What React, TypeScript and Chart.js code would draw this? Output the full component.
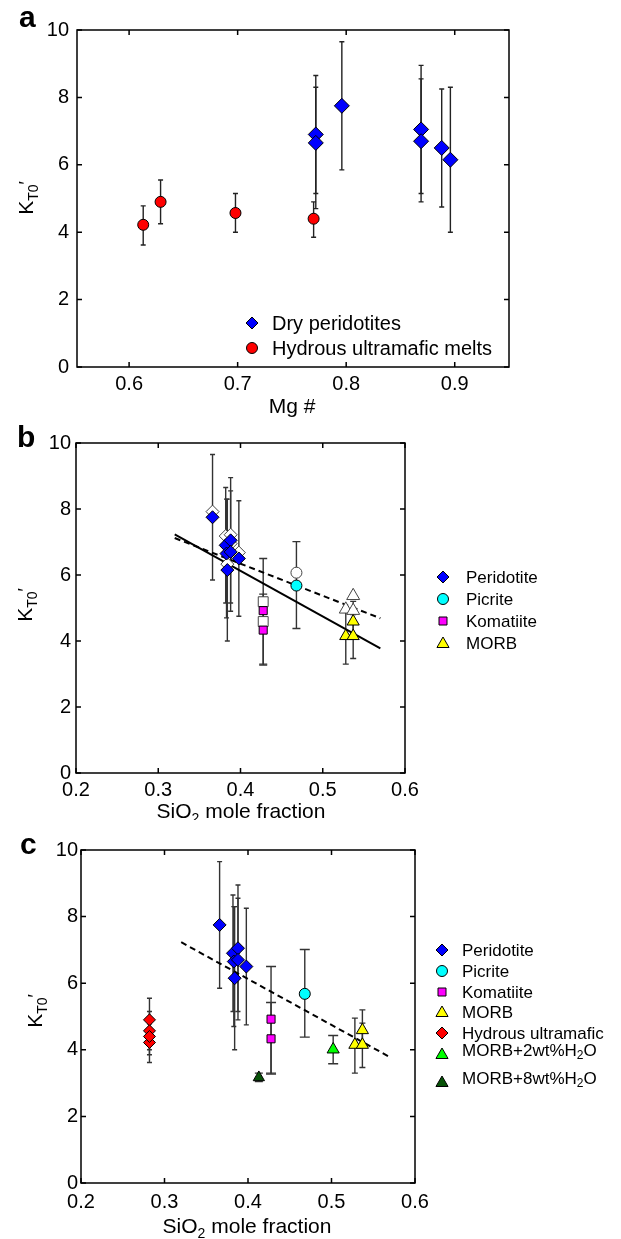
import React, { useEffect, useRef } from 'react';
import { Chart, registerables } from 'chart.js';

Chart.register(...registerables);

const FONT = '"Liberation Sans", Arial, Helvetica, sans-serif';

// ---------------- data ----------------
// Dry peridotites
const periMg = [0.772, 0.772, 0.796, 0.869, 0.869, 0.888, 0.896];
const periSiO2 = [0.382, 0.383, 0.366, 0.388, 0.388, 0.398, 0.384];
const periK = [6.9, 6.65, 7.75, 7.05, 6.7, 6.5, 6.15];
const periLo = [5.15, 4.7, 5.85, 5.15, 4.9, 4.75, 4.0];
const periHi = [8.65, 8.3, 9.65, 8.95, 8.55, 8.25, 8.3];
const periKOpen = [7.18, 6.88, 7.92, 7.22, 6.95, 6.68, 6.33];

// Hydrous ultramafic melts
const hydMg = [0.613, 0.629, 0.698, 0.77];
const hydSiO2 = [0.282, 0.282, 0.282, 0.282];
const hydK = [4.22, 4.9, 4.57, 4.4];
const hydLo = [3.62, 4.25, 4.0, 3.85];
const hydHi = [4.78, 5.55, 5.15, 4.9];

// Picrite
const picSiO2 = [0.468];
const picK = [5.68];
const picLo = [4.38];
const picHi = [7.01];
const picKOpen = [6.07];

// Komatiite
const komSiO2 = [0.4276, 0.4276];
const komK = [4.92, 4.33];
const komLo = [3.3, 3.27];
const komHi = [6.5, 5.42];
const komKOpen = [5.19, 4.59];

// MORB
const morbSiO2 = [0.528, 0.537, 0.537];
const morbK = [4.15, 4.15, 4.59];
const morbLo = [3.3, 3.47, 4.1];
const morbHi = [4.95, 4.8, 5.2];
const morbKOpen = [4.96, 4.92, 5.37];

// MORB + 2 wt% H2O
const morb2SiO2 = [0.502];
const morb2K = [4.01];
const morb2Lo = [3.58];
const morb2Hi = [4.43];

// MORB + 8 wt% H2O
const morb8SiO2 = [0.413];
const morb8K = [3.17];
const morb8Lo = [3.05];
const morb8Hi = [3.3];

// Fit lines
const fitSolidX = [0.32, 0.57];
const fitSolidY = [7.23, 3.78];
const fitDashX = [0.32, 0.57];
const fitDashY = [7.12, 4.69];

// Ticks
const xTicksA = [0.6, 0.7, 0.8, 0.9];
const xTicksBC = [0.2, 0.3, 0.4, 0.5, 0.6];
const yTicks = [0, 2, 4, 6, 8, 10];

// ---------------- helpers ----------------
const PSTYLE: Record<string, string> = {
  diamond: 'rectRot',
  circle: 'circle',
  square: 'rect',
  triangle: 'triangle',
};

function mk(xs: number[], ys: number[], shape: string, r: number, fill: string, o: any = {}) {
  return {
    data: xs.map((x, i) => ({ x, y: ys[i] })),
    pointStyle: PSTYLE[shape],
    pointRadius: r,
    pointHoverRadius: r,
    backgroundColor: fill,
    borderColor: o.stroke || '#000',
    borderWidth: o.bw ?? 1,
    showLine: false,
    errLo: o.lo,
    errHi: o.hi,
    errCap: o.cap ?? 3,
    errColor: o.ec || '#222',
    errWidth: o.ew || 1.4,
  };
}

function fitLine(xs: number[], ys: number[], dash: number[]) {
  return {
    data: xs.map((x, i) => ({ x, y: ys[i] })),
    showLine: true,
    pointRadius: 0,
    pointHoverRadius: 0,
    borderColor: '#000',
    borderWidth: 2,
    borderDash: dash,
    fill: false,
    tension: 0,
  };
}

type Seg = { t: string; size: number; dy?: number; bold?: boolean };

function segFont(s: Seg) {
  return `${s.bold ? 'bold ' : ''}${s.size}px ${FONT}`;
}

function richWidth(ctx: CanvasRenderingContext2D, segs: Seg[]) {
  let w = 0;
  for (const s of segs) {
    ctx.font = segFont(s);
    w += ctx.measureText(s.t).width;
  }
  return w;
}

function drawRich(ctx: CanvasRenderingContext2D, segs: Seg[], x: number, y: number, align: 'left' | 'center') {
  const w = richWidth(ctx, segs);
  let cx = align === 'center' ? x - w / 2 : x;
  ctx.textAlign = 'left';
  for (const s of segs) {
    ctx.font = segFont(s);
    ctx.fillText(s.t, cx, y + (s.dy || 0));
    cx += ctx.measureText(s.t).width;
  }
}

function drawMarker(ctx: CanvasRenderingContext2D, shape: string, x: number, y: number, r: number, fill: string) {
  ctx.beginPath();
  if (shape === 'diamond') {
    ctx.moveTo(x, y - r);
    ctx.lineTo(x + r, y);
    ctx.lineTo(x, y + r);
    ctx.lineTo(x - r, y);
    ctx.closePath();
  } else if (shape === 'circle') {
    ctx.arc(x, y, r, 0, Math.PI * 2);
  } else if (shape === 'square') {
    ctx.rect(x - r, y - r, 2 * r, 2 * r);
  } else {
    ctx.moveTo(x, y - r);
    ctx.lineTo(x + 0.866 * r, y + 0.5 * r);
    ctx.lineTo(x - 0.866 * r, y + 0.5 * r);
    ctx.closePath();
  }
  ctx.fillStyle = fill;
  ctx.fill();
  ctx.strokeStyle = '#000';
  ctx.lineWidth = 1;
  ctx.stroke();
}

type LegendItem = { label: Seg[]; shape: string; r: number; fill: string; ty: number; my: number };

interface PanelCfg {
  top: number;
  height: number;
  area: { left: number; right: number; top: number; bottom: number };
  xMin: number;
  xMax: number;
  xTicks: number[];
  xPad: number;
  yPad: number;
  tickSize: number;
  datasets: any[];
  letter: string;
  letterX: number;
  letterY: number;
  xTitle: Seg[];
  xTitleX: number;
  xTitleY: number;
  yTitleX: number;
  yTitleY: number;
  legendMarkerX: number;
  legendTextX: number;
  legend: LegendItem[];
}

const W = 621;

const kTitle: Seg[] = [
  { t: 'K', size: 21 },
  { t: 'T0', size: 14, dy: 5 },
  { t: '\u2032', size: 18, dy: -1 },
];
const sioTitle: Seg[] = [
  { t: 'SiO', size: 21 },
  { t: '2', size: 14, dy: 5 },
  { t: ' mole fraction', size: 21 },
];

function makePlugin(cfg: PanelCfg) {
  return {
    id: 'panelDecor' + cfg.letter,
    beforeDatasetsDraw(chart: any) {
      const ctx: CanvasRenderingContext2D = chart.ctx;
      const xs = chart.scales.x;
      const ys = chart.scales.y;
      ctx.save();
      chart.data.datasets.forEach((ds: any) => {
        if (!ds.errLo || !ds.errHi) return;
        ctx.strokeStyle = ds.errColor;
        ctx.lineWidth = ds.errWidth;
        ds.data.forEach((p: any, i: number) => {
          const px = xs.getPixelForValue(p.x);
          const y1 = ys.getPixelForValue(ds.errLo[i]);
          const y2 = ys.getPixelForValue(ds.errHi[i]);
          const c = ds.errCap;
          ctx.beginPath();
          ctx.moveTo(px, y1);
          ctx.lineTo(px, y2);
          ctx.moveTo(px - c, y1);
          ctx.lineTo(px + c, y1);
          ctx.moveTo(px - c, y2);
          ctx.lineTo(px + c, y2);
          ctx.stroke();
        });
      });
      ctx.restore();
    },
    afterDraw(chart: any) {
      const ctx: CanvasRenderingContext2D = chart.ctx;
      const { left, right, top, bottom } = chart.chartArea;
      const xs = chart.scales.x;
      const ys = chart.scales.y;
      ctx.save();
      // frame
      ctx.strokeStyle = '#000';
      ctx.lineWidth = 1.5;
      ctx.strokeRect(left, top, right - left, bottom - top);
      // inward ticks on all sides
      ctx.beginPath();
      const tl = 5;
      cfg.xTicks.forEach((v) => {
        const px = xs.getPixelForValue(v);
        ctx.moveTo(px, bottom);
        ctx.lineTo(px, bottom - tl);
        ctx.moveTo(px, top);
        ctx.lineTo(px, top + tl);
      });
      yTicks.forEach((v) => {
        const py = ys.getPixelForValue(v);
        ctx.moveTo(left, py);
        ctx.lineTo(left + tl, py);
        ctx.moveTo(right, py);
        ctx.lineTo(right - tl, py);
      });
      ctx.stroke();

      ctx.fillStyle = '#000';
      // panel letter
      ctx.textBaseline = 'alphabetic';
      drawRich(ctx, [{ t: cfg.letter, size: 30, bold: true }], cfg.letterX, cfg.letterY, 'left');
      // x title
      drawRich(ctx, cfg.xTitle, cfg.xTitleX, cfg.xTitleY, 'center');
      // y title (rotated)
      ctx.save();
      ctx.translate(cfg.yTitleX, cfg.yTitleY);
      ctx.rotate(-Math.PI / 2);
      drawRich(ctx, kTitle, 0, 0, 'center');
      ctx.restore();
      // legend
      cfg.legend.forEach((it) => {
        drawMarker(ctx, it.shape, cfg.legendMarkerX, it.my, it.r, it.fill);
        ctx.fillStyle = '#000';
        ctx.textBaseline = 'middle';
        drawRich(ctx, it.label, cfg.legendTextX, it.ty, 'left');
      });
      ctx.restore();
    },
  };
}

function Panel({ cfg }: { cfg: PanelCfg }) {
  const ref = useRef<HTMLCanvasElement>(null);
  useEffect(() => {
    if (!ref.current) return;
    const tickFont = { family: FONT, size: cfg.tickSize };
    const chart = new Chart(ref.current, {
      type: 'scatter',
      data: { datasets: cfg.datasets },
      options: {
        responsive: false,
        animation: false,
        events: [],
        layout: {
          padding: { left: 0, top: cfg.area.top, right: W - cfg.area.right, bottom: 0 },
        },
        plugins: {
          legend: { display: false },
          tooltip: { enabled: false },
        },
        scales: {
          x: {
            type: 'linear',
            min: cfg.xMin,
            max: cfg.xMax,
            afterBuildTicks: (s: any) => {
              s.ticks = cfg.xTicks.map((v) => ({ value: v }));
            },
            afterFit: (s: any) => {
              s.height = cfg.height - cfg.area.bottom;
            },
            grid: { display: false, drawTicks: false },
            border: { display: false },
            ticks: {
              autoSkip: false,
              maxRotation: 0,
              minRotation: 0,
              padding: cfg.xPad,
              color: '#000',
              font: tickFont,
              callback: (v: any) => Number(v).toFixed(1),
            },
          },
          y: {
            type: 'linear',
            min: 0,
            max: 10,
            afterBuildTicks: (s: any) => {
              s.ticks = yTicks.map((v) => ({ value: v }));
            },
            afterFit: (s: any) => {
              s.width = cfg.area.left;
            },
            grid: { display: false, drawTicks: false },
            border: { display: false },
            ticks: {
              padding: cfg.yPad,
              color: '#000',
              font: tickFont,
              callback: (v: any) => String(v),
            },
          },
        },
      } as any,
      plugins: [makePlugin(cfg)],
    });
    return () => chart.destroy();
  }, []);
  return (
    <canvas
      ref={ref}
      width={W}
      height={cfg.height}
      style={{ position: 'absolute', left: 0, top: cfg.top, width: W, height: cfg.height, display: 'block' }}
    />
  );
}

const BLUE = '#0000ff';
const RED = '#ff0000';
const CYAN = '#00ffff';
const MAGENTA = '#ff00ff';
const YELLOW = '#ffff00';
const GREEN = '#00ff00';
const DKGREEN = '#075207';
const OPEN = { stroke: '#444' };

const panelA: PanelCfg = {
  top: 0,
  height: 420,
  area: { left: 77, right: 509, top: 30, bottom: 367 },
  xMin: 0.552,
  xMax: 0.95,
  xTicks: xTicksA,
  xPad: 5,
  yPad: 8,
  tickSize: 20,
  datasets: [
    mk(periMg, periK, 'diamond', 7.5, BLUE, { lo: periLo, hi: periHi, cap: 2.5 }),
    mk(hydMg, hydK, 'circle', 5.5, RED, { lo: hydLo, hi: hydHi, cap: 2.5 }),
  ],
  letter: 'a',
  letterX: 19,
  letterY: 27,
  xTitle: [{ t: 'Mg #', size: 21 }],
  xTitleX: 292,
  xTitleY: 413,
  yTitleX: 33,
  yTitleY: 198,
  legendMarkerX: 252,
  legendTextX: 272,
  legend: [
    { label: [{ t: 'Dry peridotites', size: 20 }], shape: 'diamond', r: 6, fill: BLUE, ty: 324, my: 323 },
    { label: [{ t: 'Hydrous ultramafic melts', size: 20 }], shape: 'circle', r: 5.5, fill: RED, ty: 349, my: 348 },
  ],
};

const panelB: PanelCfg = {
  top: 420,
  height: 400,
  area: { left: 76, right: 405, top: 23, bottom: 353 },
  xMin: 0.2,
  xMax: 0.6,
  xTicks: xTicksBC,
  xPad: 5,
  yPad: 5,
  tickSize: 20,
  datasets: [
    mk(periSiO2, periK, 'diamond', 6.5, BLUE, { lo: periLo, hi: periHi, cap: 2.5, ec: '#333' }),
    mk(picSiO2, picK, 'circle', 5.5, CYAN, { lo: picLo, hi: picHi, cap: 4, ec: '#333' }),
    mk(komSiO2, komK, 'square', 5.7, MAGENTA, { lo: komLo, hi: komHi, cap: 4, ec: '#333' }),
    mk(morbSiO2, morbK, 'triangle', 7, YELLOW, { lo: morbLo, hi: morbHi, cap: 3, ec: '#333' }),
    mk(periSiO2, periKOpen, 'diamond', 6.5, '#fff', OPEN),
    mk(picSiO2, picKOpen, 'circle', 5.5, '#fff', OPEN),
    mk(komSiO2, komKOpen, 'square', 7, '#fff', OPEN),
    mk(morbSiO2, morbKOpen, 'triangle', 7.5, '#fff', OPEN),
    fitLine(fitSolidX, fitSolidY, []),
    fitLine(fitDashX, fitDashY, [6, 4]),
  ],
  letter: 'b',
  letterX: 17,
  letterY: 27,
  xTitle: sioTitle,
  xTitleX: 241,
  xTitleY: 398,
  yTitleX: 32,
  yTitleY: 185,
  legendMarkerX: 443,
  legendTextX: 466,
  legend: [
    { label: [{ t: 'Peridotite', size: 17 }], shape: 'diamond', r: 6, fill: BLUE, ty: 158, my: 157 },
    { label: [{ t: 'Picrite', size: 17 }], shape: 'circle', r: 5.5, fill: CYAN, ty: 180, my: 179 },
    { label: [{ t: 'Komatiite', size: 17 }], shape: 'square', r: 4, fill: MAGENTA, ty: 202, my: 201 },
    { label: [{ t: 'MORB', size: 17 }], shape: 'triangle', r: 7, fill: YELLOW, ty: 224, my: 224 },
  ],
};

const panelC: PanelCfg = {
  top: 820,
  height: 419,
  area: { left: 81, right: 415, top: 30, bottom: 363 },
  xMin: 0.2,
  xMax: 0.6,
  xTicks: xTicksBC,
  xPad: 7,
  yPad: 3,
  tickSize: 20,
  datasets: [
    mk(periSiO2, periK, 'diamond', 6.5, BLUE, { lo: periLo, hi: periHi, cap: 2.5, ec: '#333' }),
    mk(picSiO2, picK, 'circle', 5.5, CYAN, { lo: picLo, hi: picHi, cap: 5, ec: '#333' }),
    mk(komSiO2, komK, 'square', 5.7, MAGENTA, { lo: komLo, hi: komHi, cap: 5, ec: '#333' }),
    mk(morbSiO2, morbK, 'triangle', 7, YELLOW, { lo: morbLo, hi: morbHi, cap: 3, ec: '#333' }),
    mk(hydSiO2, hydK, 'diamond', 6, RED, { lo: hydLo, hi: hydHi, cap: 2.5, ec: '#333' }),
    mk(morb2SiO2, morb2K, 'triangle', 7, GREEN, { lo: morb2Lo, hi: morb2Hi, cap: 5, ec: '#333' }),
    mk(morb8SiO2, morb8K, 'triangle', 6.5, DKGREEN, { lo: morb8Lo, hi: morb8Hi, cap: 4, ec: '#333' }),
    fitLine(fitSolidX, fitSolidY, [6, 4]),
  ],
  letter: 'c',
  letterX: 20,
  letterY: 34,
  xTitle: sioTitle,
  xTitleX: 247,
  xTitleY: 413,
  yTitleX: 42,
  yTitleY: 191,
  legendMarkerX: 442,
  legendTextX: 462,
  legend: [
    { label: [{ t: 'Peridotite', size: 17 }], shape: 'diamond', r: 6, fill: BLUE, ty: 131, my: 130 },
    { label: [{ t: 'Picrite', size: 17 }], shape: 'circle', r: 5.5, fill: CYAN, ty: 152, my: 151 },
    { label: [{ t: 'Komatiite', size: 17 }], shape: 'square', r: 4, fill: MAGENTA, ty: 173, my: 172 },
    { label: [{ t: 'MORB', size: 17 }], shape: 'triangle', r: 7, fill: YELLOW, ty: 193, my: 193 },
    { label: [{ t: 'Hydrous ultramafic', size: 17 }], shape: 'diamond', r: 6, fill: RED, ty: 214, my: 213 },
    {
      label: [
        { t: 'MORB+2wt%H', size: 17 },
        { t: '2', size: 12, dy: 5 },
        { t: 'O', size: 17 },
      ],
      shape: 'triangle',
      r: 7,
      fill: GREEN,
      ty: 231,
      my: 235,
    },
    {
      label: [
        { t: 'MORB+8wt%H', size: 17 },
        { t: '2', size: 12, dy: 5 },
        { t: 'O', size: 17 },
      ],
      shape: 'triangle',
      r: 7,
      fill: DKGREEN,
      ty: 259,
      my: 263,
    },
  ],
};

export default function App() {
  return (
    <div style={{ position: 'absolute', left: 0, top: 0, width: W, height: 1239, background: '#fff' }}>
      <Panel cfg={panelA} />
      <Panel cfg={panelB} />
      <Panel cfg={panelC} />
    </div>
  );
}
